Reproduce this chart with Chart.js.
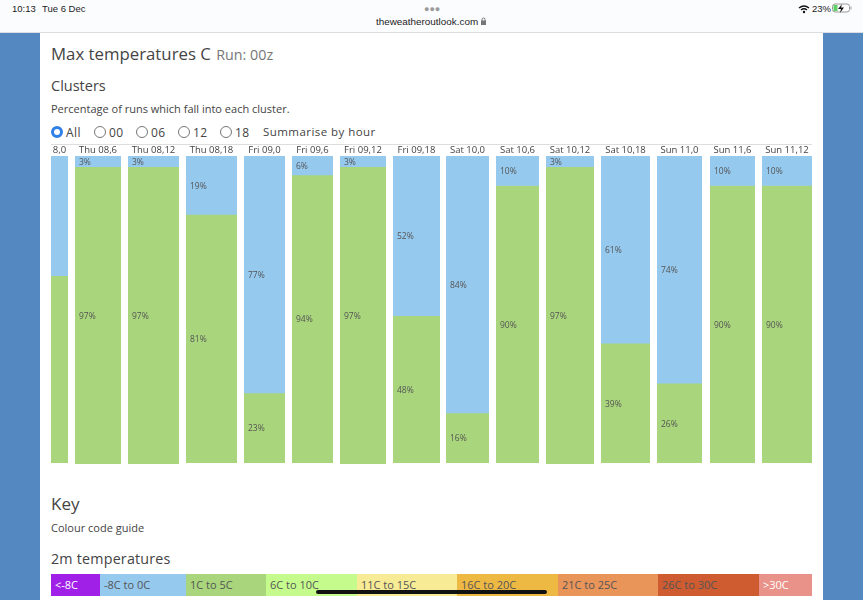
<!DOCTYPE html>
<html>
<head>
<meta charset="utf-8">
<title>Max temperatures C</title>
<script src="https://cdn.jsdelivr.net/npm/chart.js@4"></script>
<style>
html, body { margin: 0; padding: 0; width: 863px; height: 600px; overflow: hidden; background: #fff; }
body { font-family: "Open Sans", sans-serif; color: #444; position: relative; }
.abs { position: absolute; white-space: nowrap; }
canvas { position: absolute; display: block; }
.side { position: absolute; top: 33px; bottom: 0; width: 40px; background: #5488c1; }
#topbar { position: absolute; left: 0; top: 0; width: 863px; height: 32px; background: #fbfcfe; border-bottom: 1px solid #dcdde0; }
.radio { position: absolute; top: 126px; width: 10px; height: 10px; border: 1px solid #777; border-radius: 50%; background: #fff; }
.on { width: 6px; height: 6px; border: 3px solid #2f7fe8; }
#key div { position: absolute; top: 574px; height: 22px; line-height: 21px; font-size: 11px; padding-left: 4px; box-sizing: border-box; color: #555; }
#homebar { position: absolute; left: 316px; top: 590px; width: 231px; height: 4px; border-radius: 2px; background: #111; }
</style>
</head>
<body>
<div id="topbar"></div>
<div class="abs" style="left:12px;top:3px;font:9.5px 'Liberation Sans';color:#222">10:13</div>
<div class="abs" style="left:42px;top:3px;font:9.5px 'Liberation Sans';color:#222">Tue 6 Dec</div>
<div class="abs" style="left:424px;top:4px;font:9px 'Liberation Sans';color:#999;letter-spacing:0;">&#9679;&#9679;&#9679;</div>
<div class="abs" style="left:376px;top:16px;font:9.9px 'Liberation Sans';color:#222">theweatheroutlook.com</div>
<svg class="abs" style="left:480px;top:17px" width="7" height="9"><rect x="1" y="3.5" width="5" height="4.5" fill="#777"/><path d="M2 4V2.5a1.5 1.5 0 0 1 3 0V4" fill="none" stroke="#777"/></svg>
<svg class="abs" style="left:798px;top:4px" width="12" height="10"><path d="M1 4 Q6 0 11 4 M3 6 Q6 3.5 9 6" fill="none" stroke="#111" stroke-width="1.4"/><circle cx="6" cy="8" r="1.2" fill="#111"/></svg>
<div class="abs" style="left:812px;top:3px;font:9.5px 'Liberation Sans';color:#222">23%</div>
<svg class="abs" style="left:832px;top:3px" width="20" height="11"><rect x="0.5" y="1" width="17" height="8" rx="2.5" fill="#fff" stroke="#999"/><rect x="1.5" y="2" width="4" height="6" fill="#5fd068"/><path d="M10 1 L6 6 H9 L8 10 L12 4.5 H9 Z" fill="#111"/><rect x="18.5" y="3.5" width="1" height="3" fill="#999"/></svg>

<div class="side" style="left:0"></div>
<div class="side" style="left:823px"></div>

<div class="abs" style="left:51px;top:42px;font-size:16.8px;color:#444">Max temperatures C <span style="font-size:14.3px;color:#777;margin-left:1px">Run: 00z</span></div>
<div class="abs" style="left:51px;top:76px;font-size:14.5px">Clusters</div>
<div class="abs" style="left:51px;top:101px;font-size:11px">Percentage of runs which fall into each cluster.</div>

<div class="radio on" style="left:51px"></div>
<div class="abs" style="left:66px;top:124px;font-size:12px;letter-spacing:.4px">All</div>
<div class="radio" style="left:94px"></div>
<div class="abs" style="left:109px;top:124px;font-size:12px;letter-spacing:.4px">00</div>
<div class="radio" style="left:136px"></div>
<div class="abs" style="left:151px;top:124px;font-size:12px;letter-spacing:.4px">06</div>
<div class="radio" style="left:178px"></div>
<div class="abs" style="left:193px;top:124px;font-size:12px;letter-spacing:.4px">12</div>
<div class="radio" style="left:220px"></div>
<div class="abs" style="left:235px;top:124px;font-size:12px;letter-spacing:.4px">18</div>
<div class="abs" style="left:263px;top:124px;font-size:11.5px;letter-spacing:.45px">Summarise by hour</div>
<div class="abs" style="left:51px;top:144px;width:761px;height:1px;background:#ddd"></div>

<div id="columns"></div>

<div class="abs" style="left:51px;top:492px;font-size:17px">Key</div>
<div class="abs" style="left:51px;top:520px;font-size:11px">Colour code guide</div>
<div class="abs" style="left:51px;top:549px;font-size:14.3px;letter-spacing:.2px">2m temperatures</div>
<div id="key"></div>
<div id="homebar"></div>

<script>
const categories = ["8,0", "Thu 08,6", "Thu 08,12", "Thu 08,18", "Fri 09,0", "Fri 09,6", "Fri 09,12", "Fri 09,18",
    "Sat 10,0", "Sat 10,6", "Sat 10,12", "Sat 10,18", "Sun 11,0", "Sun 11,6", "Sun 11,12"];
// -8C to 0C cluster, % of runs
const coldValues = [39, 3.45, 3.45, 19, 77.2, 6.2, 3.45, 52, 83.7, 9.6, 3.45, 61, 74, 9.6, 9.6];
// 1C to 5C cluster, % of runs
const coolValues = [61, 96.55, 96.55, 81, 22.8, 93.8, 96.55, 48, 16.3, 90.4, 96.55, 39, 26, 90.4, 90.4];

const keyLabels = ["<-8C", "-8C to 0C", "1C to 5C", "6C to 10C", "11C to 15C", "16C to 20C", "21C to 25C", "26C to 30C", ">30C"];
const keyColours = ["#a020e8", "#95c9ee", "#a9d57c", "#c5fb8d", "#f7ec95", "#eeb943", "#e99459", "#cf5c30", "#e99289"];

// page layout of the table columns
const colLeft = [51, 75, 128, 186, 244, 292, 340, 393, 446, 496, 546, 601, 657, 710, 762];
const colRight = [68, 121, 179, 237, 285, 333, 386, 440, 489, 539, 594, 650, 702, 755, 812];
const keyEdges = [51, 100, 186, 266, 357, 457, 558, 658, 759, 812];

const percentLabels = {
    id: 'percentLabels',
    afterDatasetsDraw(chart) {
        // the clipped first column shows no percentages
        if (chart.canvas.width < 20) return;
        const ctx = chart.ctx;
        ctx.save();
        ctx.font = '8.5px "Open Sans"';
        ctx.fillStyle = '#555';
        ctx.textBaseline = 'middle';
        chart.data.datasets.forEach((ds, d) => {
            const bar = chart.getDatasetMeta(d).data[0];
            ctx.fillText(Math.round(ds.data[0]) + '%', chart.chartArea.left + 4, (bar.y + bar.base) / 2 + 1);
        });
        ctx.restore();
    }
};

const holder = document.getElementById('columns');
categories.forEach((cat, i) => {
    const canvas = document.createElement('canvas');
    const w = colRight[i] - colLeft[i];
    // the 97% columns run one pixel lower in the reference
    const h = coldValues[i] < 4 ? 319 : 318;
    canvas.style.left = colLeft[i] + 'px';
    canvas.style.top = '145px';
    canvas.width = w;
    canvas.height = h;
    holder.appendChild(canvas);

    new Chart(canvas.getContext('2d'), {
        type: 'bar',
        data: {
            labels: [cat],
            datasets: [
                { data: [coldValues[i]], backgroundColor: '#95c9ee', borderWidth: 0, barPercentage: 1, categoryPercentage: 1 },
                { data: [coolValues[i]], backgroundColor: '#a9d57c', borderWidth: 0, barPercentage: 1, categoryPercentage: 1 }
            ]
        },
        options: {
            responsive: false,
            animation: false,
            layout: { padding: 0 },
            plugins: { legend: { display: false }, tooltip: { enabled: false } },
            scales: {
                x: {
                    position: 'top',
                    stacked: true,
                    grid: { display: false, drawTicks: false },
                    border: { display: false },
                    afterFit(scale) { scale.height = 11; },
                    ticks: {
                        padding: 0,
                        maxRotation: 0,
                        minRotation: 0,
                        autoSkip: false,
                        color: '#444',
                        font: { family: 'Open Sans', size: 9.5, weight: '500' }
                    }
                },
                y: { display: false, stacked: true, reverse: true, min: 0, max: 100 }
            }
        },
        plugins: [percentLabels]
    });
});

const key = document.getElementById('key');
keyLabels.forEach((lab, i) => {
    const d = document.createElement('div');
    d.textContent = lab;
    d.style.left = keyEdges[i] + 'px';
    d.style.width = (keyEdges[i + 1] - keyEdges[i]) + 'px';
    d.style.background = keyColours[i];
    if (i == 0 || i == 8) d.style.color = '#fff';
    key.appendChild(d);
});
</script>
</body>
</html>
